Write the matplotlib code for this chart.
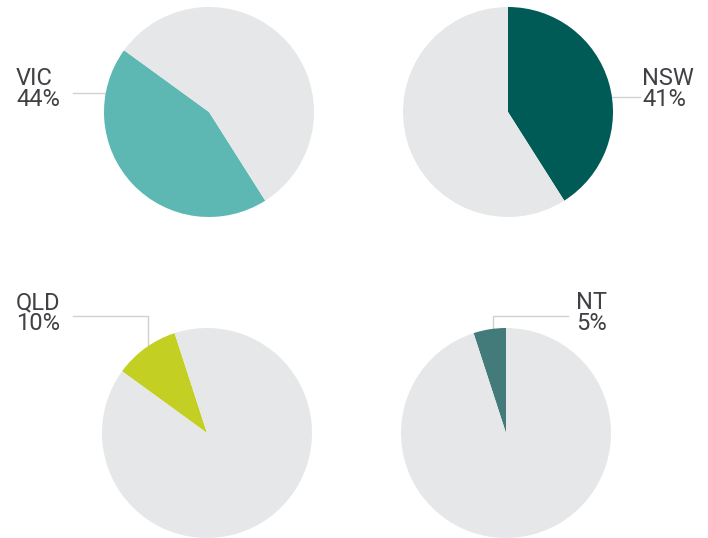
import numpy as np
import matplotlib.pyplot as plt

# data: share by state, in the order they stack round the circle (ccw from top)
states = ["NT", "QLD", "VIC", "NSW"]
shares = [5, 10, 44, 41]
colors = ["#437b7a", "#c3cf22", "#5db8b3", "#005b57"]
grey = "#e6e7e8"

W, H = 708, 538
fig = plt.figure(figsize=(W / 100, H / 100), dpi=100)

# pie centres and radius in pixels
centres = {"VIC": (209, 112), "NSW": (508, 112), "QLD": (207, 433), "NT": (506, 433)}
r = 105

starts = 90 + 3.6 * (np.cumsum(shares) - np.array(shares))

for name, val, col, st in zip(states, shares, colors, starts):
    cx, cy = centres[name]
    ax = fig.add_axes([(cx - r) / W, 1 - (cy + r) / H, 2 * r / W, 2 * r / H])
    ax.pie([val, 100 - val], colors=[col, grey], startangle=st,
           counterclock=True, radius=1, wedgeprops=dict(linewidth=0))
    ax.set_xlim(-1, 1)
    ax.set_ylim(-1, 1)
    ax.set_aspect("auto")
    ax.axis("off")

# overlay in pixel coords for labels and leader lines
ov = fig.add_axes([0, 0, 1, 1], zorder=-1)
ov.set_xlim(0, W)
ov.set_ylim(H, 0)
ov.axis("off")

lc = "#d0d1d2"
ov.plot([73, 106], [93, 93], color=lc, lw=1)
ov.plot([611, 640], [97, 97], color=lc, lw=1)
ov.plot([73, 148, 148], [316, 316, 345], color=lc, lw=1)
ov.plot([568, 493, 493], [316, 316, 336], color=lc, lw=1)

tc = "#404144"
fs = 17
labels = {"VIC": (16, 89), "NSW": (642, 89), "QLD": (16, 313), "NT": (576, 313)}
for name, val in zip(states, shares):
    x, y = labels[name]
    ov.text(x, y, name + "\n" + str(val) + "%", fontsize=fs, color=tc,
            family="Roboto", va="center", ha="left", linespacing=0.88)

fig.savefig("out.png", dpi=100)
